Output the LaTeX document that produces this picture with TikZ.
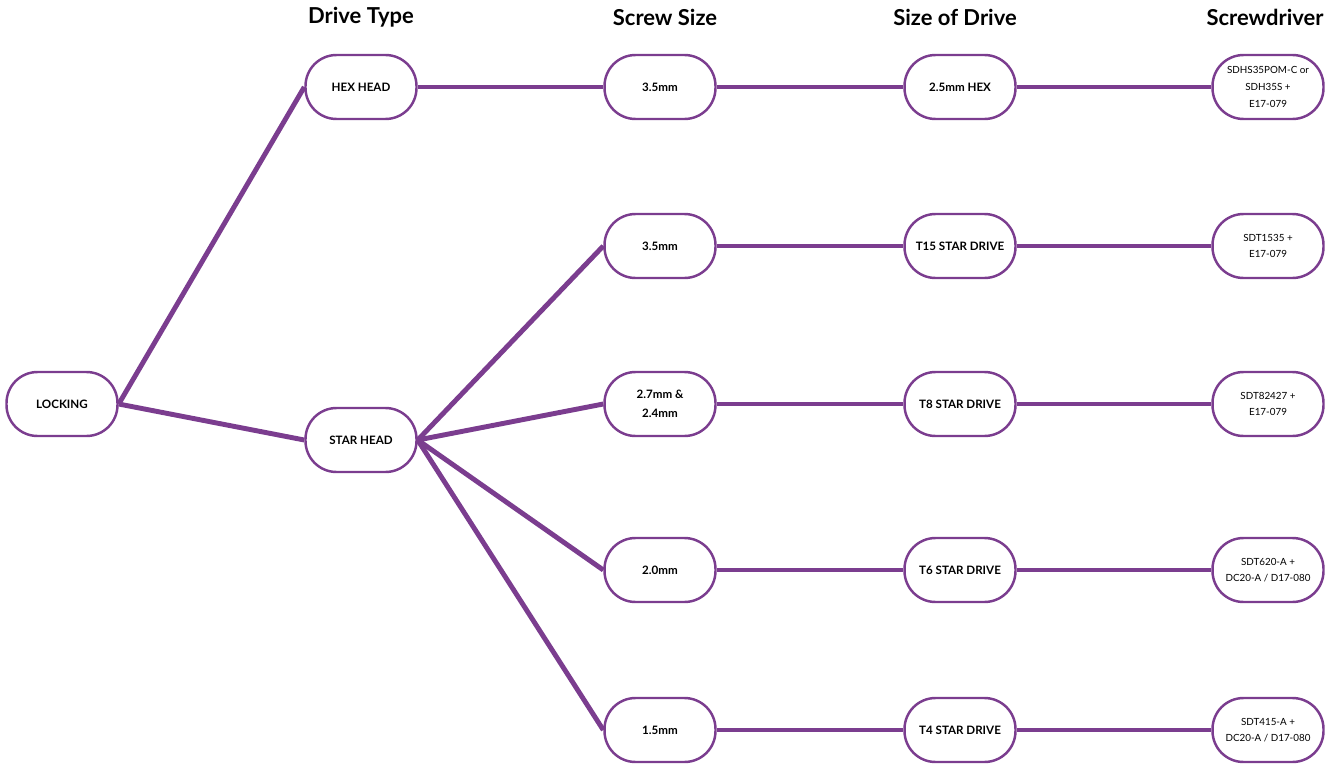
\documentclass[tikz,border=0pt]{standalone}
\usepackage{fontspec}
\setmainfont{Lato}
\definecolor{plum}{RGB}{123,61,143}

\begin{document}
\begin{tikzpicture}[x=0.02cm,y=-0.02cm,
  pill/.style={draw=plum,line width=1.4pt,fill=white,rectangle,rounded corners=0.62cm,
    minimum width=2.22cm,minimum height=1.28cm,align=center,inner sep=1pt},
  bnode/.style={pill,font=\fontsize{6.6}{11}\selectfont\bfseries},
  tnode/.style={pill,font=\fontsize{5.6}{9.5}\selectfont},
  head/.style={font=\fontsize{12.5}{14}\selectfont\bfseries},
  link/.style={plum,line width=2.8pt}]
\useasboundingbox (0,0) rectangle (1341,767);
% column titles
\node[head] (h1) at (361,17) {Drive Type};
\node[head] (h2) at (665,17) {Screw Size};
\node[head] (h3) at (955,17) {Size of Drive};
\node[head] (h4) at (1265,17) {Screwdriver};
% first two levels
\node[bnode] (lock) at (62,404) {LOCKING};
\node[bnode] (hex) at (361,87) {HEX HEAD};
\node[bnode] (star) at (361,440) {STAR HEAD};
% screw sizes
\node[bnode] (s1) at (660,87) {3.5mm};
\node[bnode] (s2) at (660,246) {3.5mm};
\node[bnode] (s3) at (660,404) {2.7mm \&\\ 2.4mm};
\node[bnode] (s4) at (660,570) {2.0mm};
\node[bnode] (s5) at (660,730) {1.5mm};
% drive sizes
\node[bnode] (d1) at (960,87) {2.5mm HEX};
\node[bnode] (d2) at (960,246) {T15 STAR DRIVE};
\node[bnode] (d3) at (960,404) {T8 STAR DRIVE};
\node[bnode] (d4) at (960,570) {T6 STAR DRIVE};
\node[bnode] (d5) at (960,730) {T4 STAR DRIVE};
% screwdrivers
\node[tnode] (t1) at (1268,87) {SDHS35POM-C or\\ SDH35S +\\ E17-079};
\node[tnode] (t2) at (1268,246) {SDT1535 +\\ E17-079};
\node[tnode] (t3) at (1268,404) {SDT82427 +\\ E17-079};
\node[tnode] (t4) at (1268,570) {SDT620-A +\\ DC20-A / D17-080};
\node[tnode] (t5) at (1268,730) {SDT415-A +\\ DC20-A / D17-080};
% links
\draw[link] (lock.east) -- (hex.west);
\draw[link] (lock.east) -- (star.west);
\draw[link] (hex.east) -- (s1.west);
\foreach \i in {2,...,5}
  \draw[link] (star.east) -- (s\i.west);
\foreach \i in {1,...,5}{
  \draw[link] (s\i.east) -- (d\i.west);
  \draw[link] (d\i.east) -- (t\i.west);
}
\end{tikzpicture}
\end{document}
